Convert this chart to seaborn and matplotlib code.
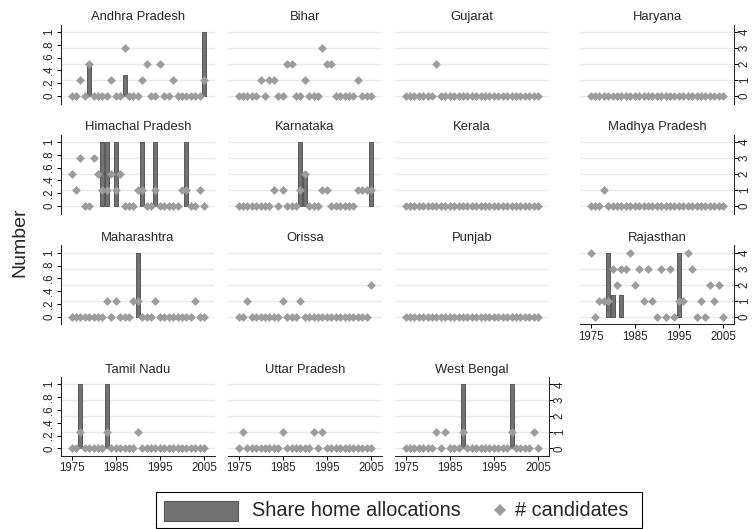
import matplotlib
matplotlib.use("Agg")
import matplotlib.pyplot as plt
import matplotlib.patches as mpatches
from matplotlib.lines import Line2D
import numpy as np
import pandas as pd
import seaborn as sns

sns.set_style("white")
plt.rcParams["font.family"] = ["Liberation Sans", "DejaVu Sans"]

# ---------------- data ----------------
years = list(range(1975, 2006))

states = ["Andhra Pradesh", "Bihar", "Gujarat", "Haryana",
          "Himachal Pradesh", "Karnataka", "Kerala", "Madhya Pradesh",
          "Maharashtra", "Orissa", "Punjab", "Rajasthan",
          "Tamil Nadu", "Uttar Pradesh", "West Bengal"]

# number of candidates, 1975..2005
cand_andhra    = [0,0,1,0,2, 0,0,0,0,1, 0,0,3,0,0, 0,1,2,0,0, 2,0,0,1,0, 0,0,0,0,0, 1]
cand_bihar     = [0,0,0,0,0, 1,0,1,1,0, 0,2,2,0,0, 1,0,0,0,3, 2,2,0,0,0, 0,0,1,0,0, 0]
cand_gujarat   = [0,0,0,0,0, 0,0,2,0,0, 0,0,0,0,0, 0,0,0,0,0, 0,0,0,0,0, 0,0,0,0,0, 0]
cand_haryana   = [0]*31
cand_himachal  = [2,1,3,0,0, 3,2,1,1,2, 1,2,0,0,0, 1,1,0,0,1, 0,0,0,0,0, 1,1,0,0,1, 0]
cand_karnataka = [0,0,0,0,0, 0,0,0,1,0, 1,0,0,0,1, 2,0,0,0,1, 1,0,0,0,0, 0,0,1,1,1, 1]
cand_kerala    = [0]*31
cand_madhya    = [0,0,0,1,0, 0,0,0,0,0, 0,0,0,0,0, 0,0,0,0,0, 0,0,0,0,0, 0,0,0,0,0, 0]
cand_maharash  = [0,0,0,0,0, 0,0,0,1,0, 1,0,0,0,1, 1,0,0,0,1, 0,0,0,0,0, 0,0,0,1,0, 0]
cand_orissa    = [0,0,1,0,0, 0,0,0,0,0, 1,0,0,0,1, 0,0,0,0,0, 0,0,0,0,0, 0,0,0,0,0, 2]
cand_punjab    = [0]*31
cand_rajasthan = [4,0,1,1,1, 3,2,3,3,4, 2,3,1,3,1, 0,3,0,3,0, 1,1,4,3,0, 1,0,2,1,2, 0]
cand_tamil     = [0,0,1,0,0, 0,0,0,1,0, 0,0,0,0,0, 1,0,0,0,0, 0,0,0,0,0, 0,0,0,0,0, 0]
cand_uttar     = [0,1,0,0,0, 0,0,0,0,0, 1,0,0,0,0, 0,0,1,0,1, 0,0,0,0,0, 0,0,0,0,0, 0]
cand_wbengal   = [0,0,0,0,0, 0,0,1,0,1, 0,0,0,1,0, 0,0,0,0,0, 0,0,0,0,1, 0,0,0,0,1, 0]

# share of home allocations (non-zero years only)
share_andhra    = {1979: 0.5, 1987: 0.333, 2005: 1.0}
share_himachal  = {1982: 1.0, 1983: 1.0, 1985: 1.0, 1991: 1.0, 1994: 1.0, 2001: 1.0}
share_karnataka = {1989: 1.0, 1990: 0.5, 2005: 1.0}
share_maharash  = {1990: 1.0}
share_rajasthan = {1979: 1.0, 1980: 0.333, 1982: 0.333, 1995: 1.0}
share_tamil     = {1977: 1.0, 1983: 1.0}
share_wbengal   = {1988: 1.0, 1999: 1.0}

cands = [cand_andhra, cand_bihar, cand_gujarat, cand_haryana,
         cand_himachal, cand_karnataka, cand_kerala, cand_madhya,
         cand_maharash, cand_orissa, cand_punjab, cand_rajasthan,
         cand_tamil, cand_uttar, cand_wbengal]
shares = [share_andhra, {}, {}, {},
          share_himachal, share_karnataka, {}, {},
          share_maharash, {}, {}, share_rajasthan,
          share_tamil, {}, share_wbengal]

rows = []
for st, c, sh in zip(states, cands, shares):
    for y, v in zip(years, c):
        rows.append({"state": st, "year": y, "cands": v, "share": sh.get(y, 0.0)})
df = pd.DataFrame(rows)

# ---------------- layout ----------------
W, H = 753, 529
fig = plt.figure(figsize=(W / 100, H / 100), dpi=100)

col_left = [61, 228, 395, 580]
row_zero = [96, 206, 316.7, 448.3]
pw = 154
unit = 64.0      # px per share unit
marg = 7.5       # px margin above 1 / below 0

BAR_FC = "#727272"
BAR_EC = "#575757"
DIA_C = "#9c9c9c"
GRID_C = "#eaeaea"
TICK_FS = 8.3

ylo = -marg / unit
yhi = 1 + marg / unit
xlo = 1975 - 10.5 / 4.42
xhi = xlo + pw / 4.42

for i, st in enumerate(states):
    r, c = divmod(i, 4)
    left = col_left[c]
    top = row_zero[r] - unit - marg
    h = unit + 2 * marg
    ax = fig.add_axes([left / W, 1 - (top + h) / H, pw / W, h / H])
    ax2 = ax.twinx()
    sub = df[df.state == st]

    for g in [0, 0.25, 0.5, 0.75, 1.0]:
        ax.axhline(g, color=GRID_C, lw=1.0, zorder=0)

    nz = sub[sub.share > 0]
    ax.bar(nz.year, nz.share, width=0.9, color=BAR_FC, edgecolor=BAR_EC,
           linewidth=0.7, zorder=2)

    sns.scatterplot(data=sub, x="year", y="cands", marker="D", color=DIA_C,
                    s=20, linewidth=0, ax=ax2, legend=False, zorder=3)

    ax.set_xlim(xlo, xhi)
    ax.set_ylim(ylo, yhi)
    ax2.set_ylim(ylo * 4, yhi * 4)
    ax.set_xlabel("")
    ax.set_ylabel("")
    ax2.set_xlabel("")
    ax2.set_ylabel("")
    ax.set_title(st, fontsize=9.4, pad=3)

    for a in (ax, ax2):
        for s in a.spines.values():
            s.set_visible(False)
        a.set_facecolor("none")
    ax.set_facecolor("white")

    show_left = (c == 0)
    show_right = (c == 3) or (i == len(states) - 1)
    show_bottom = (r == 3) or (i == 11)

    tk = dict(length=2.7, width=0.75, color="black", labelsize=TICK_FS)
    if show_left:
        ax.spines["left"].set_visible(True)
        ax.spines["left"].set_linewidth(0.75)
        ax.set_yticks([0, 0.2, 0.4, 0.6, 0.8, 1.0])
        ax.set_yticklabels(["0", ".2", ".4", ".6", ".8", "1"], rotation=90, va="center")
        ax.tick_params(axis="y", left=True, pad=1.5, **tk)
    else:
        ax.set_yticks([])
    if show_right:
        ax2.spines["right"].set_visible(True)
        ax2.spines["right"].set_linewidth(0.75)
        ax2.set_yticks([0, 1, 2, 3, 4])
        ax2.set_yticklabels(["0", "1", "2", "3", "4"], rotation=90, va="center")
        ax2.tick_params(axis="y", right=True, pad=0.8, **tk)
    else:
        ax2.set_yticks([])
    if show_bottom:
        ax.spines["bottom"].set_visible(True)
        ax.spines["bottom"].set_linewidth(0.75)
        ax.set_xticks([1975, 1985, 1995, 2005])
        ax.set_xticklabels(["1975", "1985", "1995", "2005"])
        ax.tick_params(axis="x", bottom=True, pad=2.0, **tk)
    else:
        ax.set_xticks([])
    ax2.tick_params(axis="x", bottom=False, labelbottom=False)

# y-axis title
fig.text(20 / W, 1 - 242 / H, "Number", rotation=90, ha="center", va="center",
         fontsize=14)

# ---------------- legend (Stata style box) ----------------
def fx(px):
    return px / W

def fy(py):
    return 1 - py / H

box = mpatches.Rectangle((fx(156), fy(528)), (642 - 156) / W, (528 - 492) / H,
                         transform=fig.transFigure, facecolor="white",
                         edgecolor="black", linewidth=0.8)
fig.patches.append(box)
patch = mpatches.Rectangle((fx(164.3), fy(520.7)), (238.3 - 164.3) / W, 20 / H,
                           transform=fig.transFigure, facecolor=BAR_FC,
                           edgecolor=BAR_EC, linewidth=0.8)
fig.patches.append(patch)
fig.text(fx(251.7), fy(510), "Share home allocations", ha="left", va="center",
         fontsize=14.3)
fig.lines.append(Line2D([fx(500)], [fy(510)], marker="D", markersize=5.8,
                        color=DIA_C, markeredgewidth=0, linestyle="none",
                        transform=fig.transFigure))
fig.text(fx(515), fy(510), "# candidates", ha="left", va="center", fontsize=14.3)

fig.savefig("out.png", dpi=100)
